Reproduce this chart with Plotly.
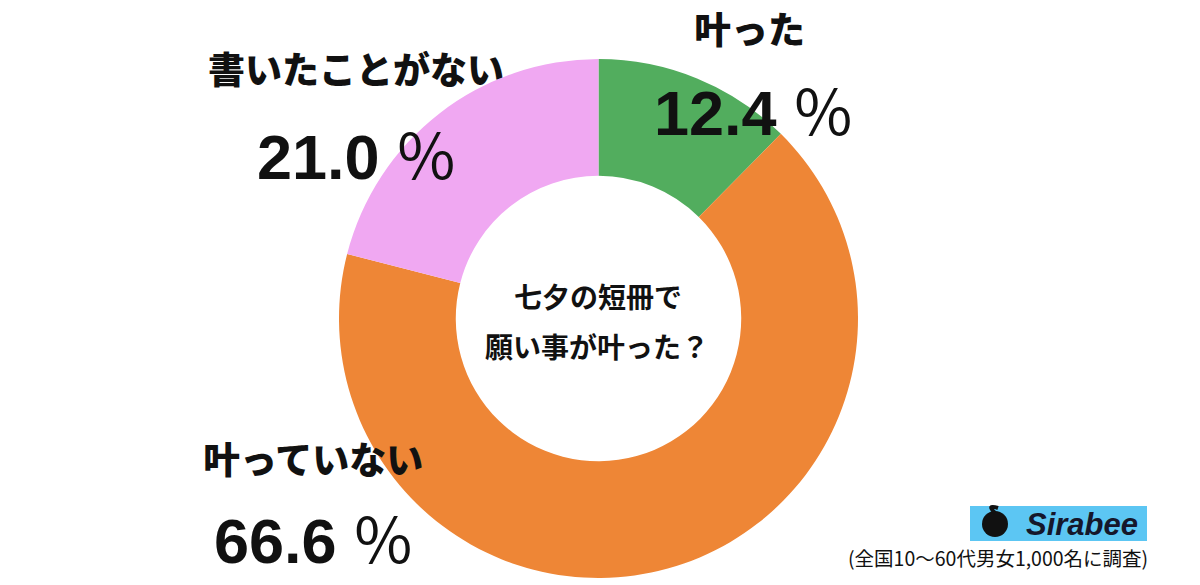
import plotly.graph_objects as go

categories = ["叶った", "叶っていない", "書いたことがない"]
values = [12.4, 66.6, 21.0]
colors = ["#52AD5E", "#EE8636", "#F0A8F2"]
center_title = ["七夕の短冊で", "願い事が叶った？"]
footnote = "(全国10〜60代男女1,000名に調査)"

W, H = 1200, 585
cx, cy, r = 598.5, 318.5, 259.5

fig = go.Figure(go.Pie(
    labels=categories, values=values, sort=False, direction="clockwise",
    rotation=0, hole=0.55, marker=dict(colors=colors, line=dict(width=0)),
    textinfo="none", hoverinfo="label+percent", showlegend=False,
    domain=dict(x=[(cx - r) / W, (cx + r) / W], y=[(H - cy - r) / H, (H - cy + r) / H]),
))

FONT = "Noto Sans CJK JP"

def px(x, y):
    return x / W, 1 - y / H

anns = []
def add(text, x, y, size, weight="bold", xanchor="center", family=FONT):
    ax, ay = px(x, y)
    anns.append(dict(text=text, x=ax, y=ay, xref="paper", yref="paper", showarrow=False,
                     xanchor=xanchor, yanchor="middle",
                     font=dict(family=family, size=size, color="#111111", weight=weight)))

label_pos = [(749, 28), (313, 458), (356, 68)]
value_pos = [(753, 107), (313, 535), (356, 152)]
for cat, v, lp, vp in zip(categories, values, label_pos, value_pos):
    add(cat, lp[0], lp[1], 37, weight=900)
    add(f"<b>{v:.1f}</b> <span style='font-family:Noto Sans CJK JP'>%</span>",
        vp[0], vp[1], 63, weight="normal", family="Liberation Sans")

add(center_title[0], 598, 296, 28)
add(center_title[1], 597, 346, 28)
add(footnote, 1150, 557, 19.5, weight="normal", xanchor="right")

# Sirabee logo
anns.append(dict(text="<b><i>Sirabee</i></b>", x=1082 / W, y=1 - 524 / H, xref="paper", yref="paper",
                 showarrow=False, xanchor="center", yanchor="middle",
                 font=dict(family="Liberation Sans", size=31, color="#15172B")))

shapes = [
    dict(type="rect", xref="paper", yref="paper", x0=970 / W, x1=1147 / W,
         y0=1 - 541 / H, y1=1 - 506 / H, fillcolor="#5CC6F3", line=dict(width=0), layer="below"),
    dict(type="circle", xref="paper", yref="paper", x0=982 / W, x1=1008 / W,
         y0=1 - 537 / H, y1=1 - 511 / H, fillcolor="#111111", line=dict(width=0)),
    dict(type="path", xref="paper", yref="paper",
         path=f"M {995/W} {1-513/H} Q {986/W} {1-504/H} {998/W} {1-508/H}",
         line=dict(color="#111111", width=4)),
]

fig.update_layout(
    width=W, height=H, margin=dict(l=0, r=0, t=0, b=0),
    paper_bgcolor="white", plot_bgcolor="white",
    annotations=anns, shapes=shapes,
)

fig.write_html("out.html")
